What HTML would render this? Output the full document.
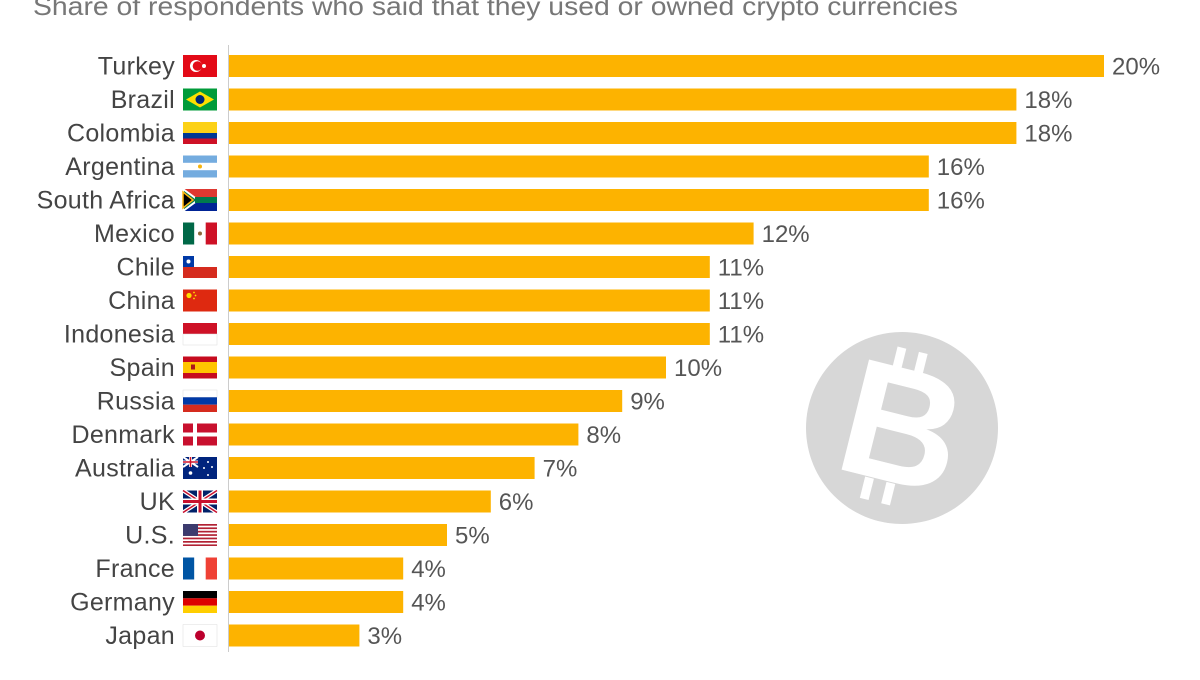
<!DOCTYPE html>
<html><head><meta charset="utf-8"><style>
html,body{margin:0;padding:0;background:#fff;}
body{width:1200px;height:675px;overflow:hidden;font-family:"Liberation Sans",sans-serif;}
</style></head><body>
<svg id="chart" width="1200" height="675" xmlns="http://www.w3.org/2000/svg">
<text x="33" y="15" font-size="26" fill="#777" textLength="925" lengthAdjust="spacingAndGlyphs" font-family="Liberation Sans, sans-serif">Share of respondents who said that they used or owned crypto currencies</text>
<g>
<circle cx="902" cy="428" r="96" fill="#d7d7d7"/>
<text x="902" y="483" font-size="165" font-weight="bold" fill="#fff" text-anchor="middle" transform="rotate(14 902 428)" font-family="Liberation Sans, sans-serif">B</text>
<rect x="878" y="350" width="9" height="22" fill="#fff" transform="rotate(14 902 428)"/>
<rect x="900" y="350" width="9" height="22" fill="#fff" transform="rotate(14 902 428)"/>
<rect x="878" y="484" width="9" height="22" fill="#fff" transform="rotate(14 902 428)"/>
<rect x="900" y="484" width="9" height="22" fill="#fff" transform="rotate(14 902 428)"/>
</g>
<line x1="228.5" y1="45" x2="228.5" y2="652" stroke="#ccc" stroke-width="1"/>
<g id="rows"></g>
</svg>
<script>
const countries=["Turkey","Brazil","Colombia","Argentina","South Africa","Mexico","Chile","China","Indonesia","Spain","Russia","Denmark","Australia","UK","U.S.","France","Germany","Japan"];
const values=[20,18,18,16,16,12,11,11,11,10,9,8,7,6,5,4,4,3];
const valueLabels=["20%","18%","18%","16%","16%","12%","11%","11%","11%","10%","9%","8%","7%","6%","5%","4%","4%","3%"];
const NS="http://www.w3.org/2000/svg";
const x0=228, pxPer=43.8, y0=66, step=33.5, bh=22;
const xScale=v=>x0+v*pxPer;
const yScale=i=>y0+i*step;
const flags={
"Turkey":'<rect width="34" height="22" fill="#e30a17"/><circle cx="13" cy="11" r="6" fill="#fff"/><circle cx="14.5" cy="11" r="4.8" fill="#e30a17"/><circle cx="21" cy="11" r="2" fill="#fff"/>',
"Brazil":'<rect width="34" height="22" fill="#009b3a"/><polygon points="17,3 31,11 17,19 3,11" fill="#fedf00"/><circle cx="17" cy="11" r="4.5" fill="#002776"/>',
"Colombia":'<rect width="34" height="11" fill="#fcd116"/><rect y="11" width="34" height="5.5" fill="#003893"/><rect y="16.5" width="34" height="5.5" fill="#ce1126"/>',
"Argentina":'<rect width="34" height="22" fill="#74acdf"/><rect y="7.3" width="34" height="7.4" fill="#fff"/><circle cx="17" cy="11" r="2" fill="#f6b40e"/>',
"South Africa":'<rect width="34" height="11" fill="#de3831"/><rect y="11" width="34" height="11" fill="#002395"/><polygon points="0,0 15,11 0,22" fill="#007a4d" stroke="#fff" stroke-width="2"/><rect x="12" y="8" width="22" height="6" fill="#007a4d"/><polygon points="0,3 10,11 0,19" fill="#000" stroke="#ffb612" stroke-width="1.5"/>',
"Mexico":'<rect width="11.3" height="22" fill="#006847"/><rect x="11.3" width="11.4" height="22" fill="#fff"/><rect x="22.7" width="11.3" height="22" fill="#ce1126"/><circle cx="17" cy="11" r="2" fill="#8c6a3a"/>',
"Chile":'<rect width="34" height="11" fill="#fff"/><rect y="11" width="34" height="11" fill="#d52b1e"/><rect width="11" height="11" fill="#0039a6"/><circle cx="5.5" cy="5.5" r="2" fill="#fff"/>',
"China":'<rect width="34" height="22" fill="#de2910"/><circle cx="6" cy="6" r="2.6" fill="#ffde00"/><circle cx="11" cy="3" r="0.9" fill="#ffde00"/><circle cx="12.5" cy="6" r="0.9" fill="#ffde00"/><circle cx="11" cy="9" r="0.9" fill="#ffde00"/>',
"Indonesia":'<rect width="34" height="11" fill="#ce1126"/><rect y="11" width="34" height="11" fill="#fff" stroke="#ddd" stroke-width="0.5"/>',
"Spain":'<rect width="34" height="22" fill="#c60b1e"/><rect y="5.5" width="34" height="11" fill="#ffc400"/><rect x="8" y="8" width="4" height="5" fill="#ad1519"/>',
"Russia":'<rect width="34" height="7.3" fill="#fff" stroke="#ddd" stroke-width="0.5"/><rect y="7.3" width="34" height="7.4" fill="#0039a6"/><rect y="14.7" width="34" height="7.3" fill="#d52b1e"/>',
"Denmark":'<rect width="34" height="22" fill="#c8102e"/><rect x="10" width="4" height="22" fill="#fff"/><rect y="9" width="34" height="4" fill="#fff"/>',
"Australia":'<rect width="34" height="22" fill="#00247d"/><path d="M0,0L15,10M15,0L0,10" stroke="#fff" stroke-width="2"/><path d="M7.5,0V10M0,5H15" stroke="#fff" stroke-width="3"/><path d="M7.5,0V10M0,5H15" stroke="#cf142b" stroke-width="1.5"/><circle cx="7.5" cy="16" r="1.8" fill="#fff"/><circle cx="25" cy="5" r="1" fill="#fff"/><circle cx="21" cy="11" r="1" fill="#fff"/><circle cx="29" cy="10" r="1" fill="#fff"/><circle cx="25" cy="18" r="1" fill="#fff"/>',
"UK":'<rect width="34" height="22" fill="#012169"/><path d="M0,0L34,22M34,0L0,22" stroke="#fff" stroke-width="4"/><path d="M0,0L34,22M34,0L0,22" stroke="#c8102e" stroke-width="1.5"/><path d="M17,0V22M0,11H34" stroke="#fff" stroke-width="6"/><path d="M17,0V22M0,11H34" stroke="#c8102e" stroke-width="3"/>',
"U.S.":'<rect width="34" height="22" fill="#fff"/><rect y="0" width="34" height="1.7" fill="#b22234"/><rect y="3.4" width="34" height="1.7" fill="#b22234"/><rect y="6.8" width="34" height="1.7" fill="#b22234"/><rect y="10.2" width="34" height="1.7" fill="#b22234"/><rect y="13.6" width="34" height="1.7" fill="#b22234"/><rect y="17" width="34" height="1.7" fill="#b22234"/><rect y="20.4" width="34" height="1.6" fill="#b22234"/><rect width="15" height="11.9" fill="#3c3b6e"/>',
"France":'<rect width="11.3" height="22" fill="#0055a4"/><rect x="11.3" width="11.4" height="22" fill="#fff"/><rect x="22.7" width="11.3" height="22" fill="#ef4135"/>',
"Germany":'<rect width="34" height="7.3" fill="#000"/><rect y="7.3" width="34" height="7.4" fill="#dd0000"/><rect y="14.7" width="34" height="7.3" fill="#ffce00"/>',
"Japan":'<rect width="34" height="22" fill="#fff" stroke="#ddd" stroke-width="0.5"/><circle cx="17" cy="11" r="5" fill="#bc002d"/>'
};
const g=document.getElementById('rows');
countries.forEach((c,i)=>{
  const cy=yScale(i);
  const row=document.createElementNS(NS,'g');
  
  
  const lab=document.createElementNS(NS,'text');
  
  
  lab.setAttribute('x',175);lab.setAttribute('y',cy+8.5);
  lab.setAttribute('text-anchor','end');lab.setAttribute('font-size','25');lab.setAttribute('letter-spacing','0.3');lab.setAttribute('fill','#444');
  lab.textContent=c;row.appendChild(lab);
  const fl=document.createElementNS(NS,'g');
  
  
  fl.setAttribute('transform','translate(183,'+(cy-11)+')');
  fl.innerHTML=flags[c];row.appendChild(fl);
  const bar=document.createElementNS(NS,'rect');
  
  
  bar.setAttribute('x',x0+1);bar.setAttribute('y',cy-bh/2);
  bar.setAttribute('width',xScale(values[i])-x0-1);bar.setAttribute('height',bh);
  bar.setAttribute('fill','#fdb300');row.appendChild(bar);
  const vl=document.createElementNS(NS,'text');
  
  
  vl.setAttribute('x',xScale(values[i])+8);vl.setAttribute('y',cy+8.5);
  vl.setAttribute('font-size','24');vl.setAttribute('fill','#555');
  vl.textContent=valueLabels[i];row.appendChild(vl);
  g.appendChild(row);
});
</script>
</body></html>
